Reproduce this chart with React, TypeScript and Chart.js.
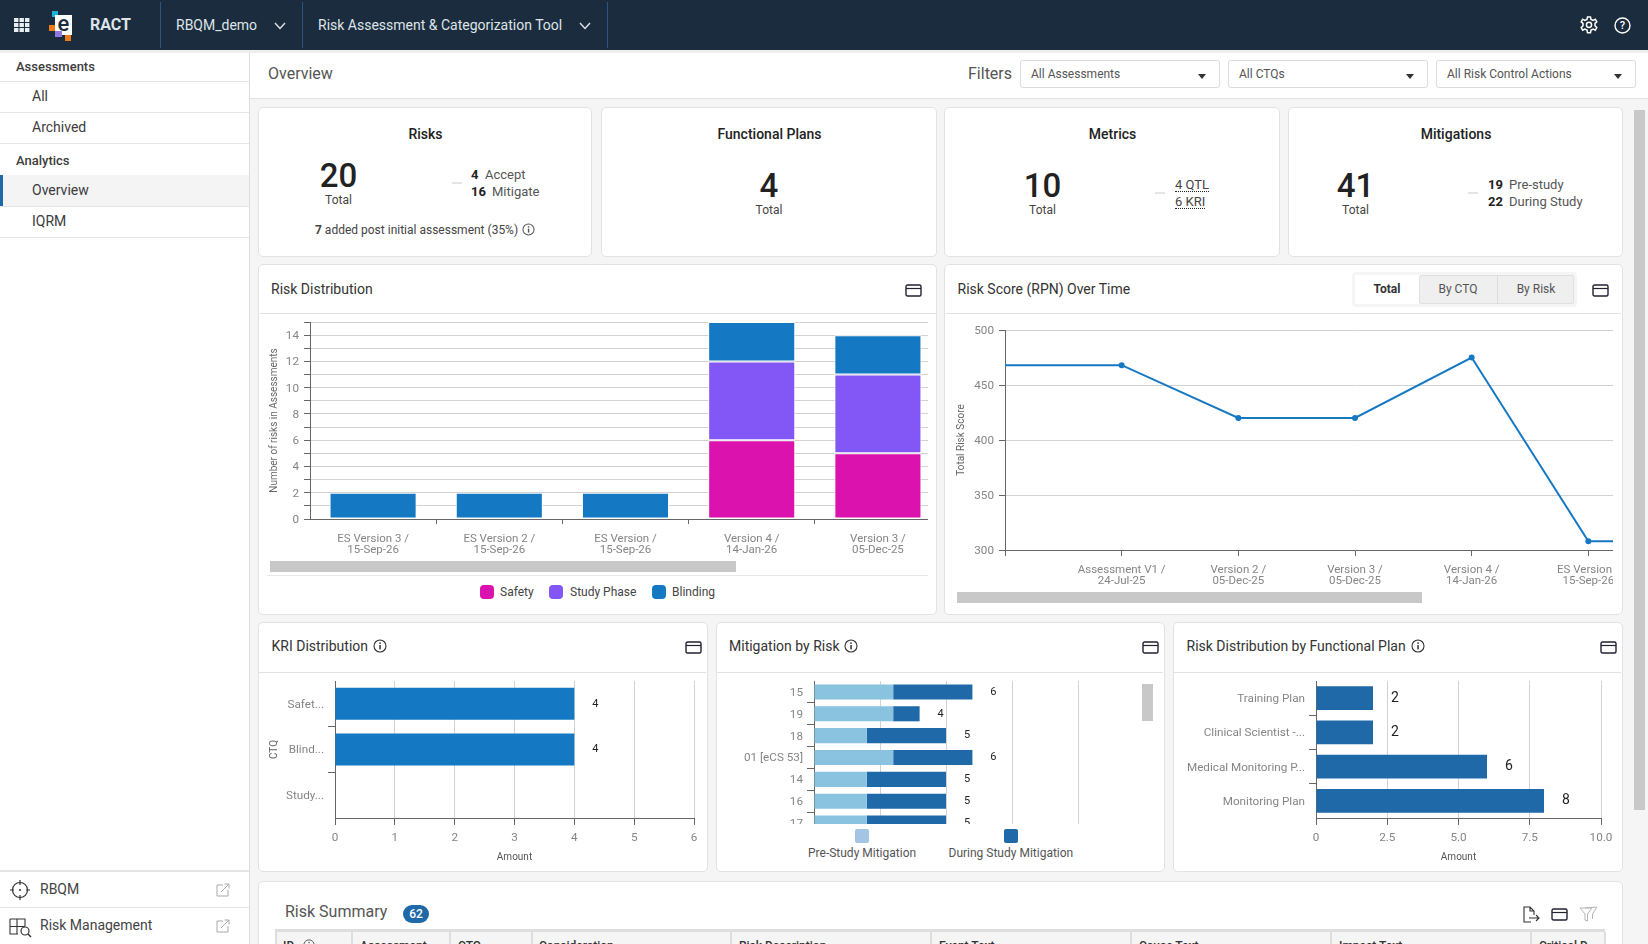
import React, { useEffect, useRef } from "react";
import { Chart, registerables } from "chart.js";

Chart.register(...registerables);
Chart.defaults.font.family = "Roboto";

const distLabels = [["ES Version 3 /", "15-Sep-26"], ["ES Version 2 /", "15-Sep-26"], ["ES Version /", "15-Sep-26"], ["Version 4 /", "14-Jan-26"], ["Version 3 /", "05-Dec-25"]];
const distSafety = [0, 0, 0, 6, 5];
const distStudyPhase = [0, 0, 0, 6, 6];
const distBlinding = [2, 2, 2, 3, 3];

const scoreLabels = ["", ["Assessment V1 /", "24-Jul-25"], ["Version 2 /", "05-Dec-25"], ["Version 3 /", "05-Dec-25"], ["Version 4 /", "14-Jan-26"], ["ES Version /", "15-Sep-26"], ["ES Version 2 /", "15-Sep-26"]];
const scoreValues = [468, 468, 420, 420, 475, 308, 308];

const kriLabels = ["Safet...", "Blind...", "Study..."];
const kriValues = [4, 4, 0];

const mitLabels = ["15", "19", "18", "01 [eCS 53]", "14", "16", "17"];
const mitPre = [3, 3, 2, 3, 2, 2, 2];
const mitDuring = [3, 1, 3, 3, 3, 3, 3];

const planLabels = ["Training Plan", "Clinical Scientist -...", "Medical Monitoring P...", "Monitoring Plan"];
const planValues = [2, 2, 6, 8];

const tableColumns = ["ID", "Assessment", "CTQ", "Consideration", "Risk Description", "Event Text", "Cause Text", "Impact Text", "Critical D..."];

const BLUE = "#1578c2";
const DARK_BLUE = "#1f69a8";
const GRID = "#d2d2d2";
const AXIS = "#666666";
const TICK = "#858585";
const TICK_SIZE = 11.7;

const innerTick = (ctx: any) => (ctx.index === undefined || ctx.index === 0 ? "transparent" : AXIS);

const totalsPlugin = {
  id: "barTotals",
  afterDatasetsDraw(chart: any, _a: any, opts: any) {
    const { ctx, scales } = chart;
    ctx.save();
    ctx.fillStyle = "#222";
    ctx.font = `${opts.size}px Roboto`;
    ctx.textAlign = "center";
    ctx.textBaseline = "middle";
    chart.data.labels.forEach((_: any, i: number) => {
      const total = chart.data.datasets.reduce((s: number, d: any) => s + d.data[i], 0);
      if (!total) return;
      ctx.fillText(String(total), scales.x.getPixelForValue(total) + opts.offset, scales.y.getPixelForValue(i));
    });
    ctx.restore();
  },
};

const fixW = (w: number) => (s: any) => { s.width = w; s.paddingTop = 0; s.paddingBottom = 0; };
const fixH = (h: number) => (s: any) => { s.height = h; s.paddingLeft = 0; s.paddingRight = 0; };
const base = { responsive: false, animation: false as const, maintainAspectRatio: false };
const titleFont = { size: 10, family: "Roboto" };

function distConfig() {
  const ds = (label: string, data: number[], backgroundColor: string) => ({ label, data, backgroundColor, borderColor: "#fff", borderWidth: 1, borderSkipped: false, barPercentage: 0.69, categoryPercentage: 1 });
  return {
    type: "bar",
    data: { labels: distLabels, datasets: [ds("Safety", distSafety, "#db12ae"), ds("Study Phase", distStudyPhase, "#8257f5"), ds("Blinding", distBlinding, BLUE)] },
    options: {
      ...base,
      layout: { padding: { top: 8, right: 18, left: 0, bottom: 0 } },
      plugins: { legend: { display: false }, tooltip: { enabled: false } },
      scales: {
        x: { stacked: true, afterFit: fixH(41), grid: { drawOnChartArea: false, tickLength: 5, tickColor: innerTick }, border: { color: AXIS }, ticks: { padding: 9, color: TICK, maxRotation: 0, autoSkip: false, font: { size: 11.5, lineHeight: 1 } } },
        y: { stacked: true, min: 0, max: 15, afterFit: fixW(51), grid: { color: GRID, tickLength: 6, tickColor: AXIS }, border: { color: AXIS }, title: { display: true, text: "Number of risks in Assessments", color: "#666", font: titleFont, padding: { top: 9, bottom: 0 } }, ticks: { stepSize: 1, padding: 5, labelOffset: 1, color: TICK, autoSkip: false, font: { size: TICK_SIZE }, callback: (v: number) => (v % 2 === 0 ? v : "") } },
      },
    },
  };
}

function scoreConfig() {
  return {
    type: "line",
    data: { labels: scoreLabels, datasets: [{ label: "Total", data: scoreValues, borderColor: BLUE, backgroundColor: BLUE, borderWidth: 2, tension: 0, pointRadius: (c: any) => (c.dataIndex === 0 ? 0 : 2) }] },
    options: {
      ...base,
      layout: { padding: { top: 16, right: 48, left: 0, bottom: 0 } },
      plugins: { legend: { display: false }, tooltip: { enabled: false } },
      scales: {
        x: { afterFit: fixH(42), grid: { drawOnChartArea: false, tickLength: 6, tickColor: AXIS }, border: { color: AXIS }, ticks: { padding: 8, color: TICK, maxRotation: 0, autoSkip: false, font: { size: 11.5, lineHeight: 1 } } },
        y: { min: 300, max: 500, afterFit: fixW(59), grid: { color: GRID, tickLength: 6, tickColor: AXIS }, border: { color: AXIS }, title: { display: true, text: "Total Risk Score", color: "#666", font: titleFont, padding: { top: 9, bottom: 0 } }, ticks: { stepSize: 50, padding: 5, labelOffset: 1, color: TICK, font: { size: TICK_SIZE } } },
      },
    },
  };
}

function hBarConfig(labels: string[], data: number[], color: string, opts: any) {
  return {
    type: "bar",
    plugins: [totalsPlugin],
    data: { labels, datasets: [{ label: "Amount", data, backgroundColor: color, barPercentage: 0.7, categoryPercentage: 1 }] },
    options: {
      ...base,
      indexAxis: "y",
      layout: { padding: { top: 8, right: opts.right, left: 0, bottom: 0 } },
      plugins: { legend: { display: false }, tooltip: { enabled: false }, barTotals: { offset: opts.offset, size: opts.size } },
      scales: {
        x: { min: 0, max: opts.max, afterFit: fixH(54), grid: { color: GRID, tickLength: 7, tickColor: AXIS }, border: { color: AXIS }, title: { display: true, text: "Amount", color: "#555", font: titleFont, padding: { top: 0, bottom: 9 } }, ticks: { stepSize: opts.step, padding: 6, color: TICK, font: { size: TICK_SIZE }, callback: opts.fmt } },
        y: { afterFit: fixW(opts.yWidth), title: opts.yTitle ? { display: true, text: opts.yTitle, color: "#666", font: { size: 10, family: "Roboto" }, padding: { top: 9, bottom: 0 } } : { display: false }, grid: { drawOnChartArea: false, tickLength: 7, tickColor: innerTick }, border: { color: AXIS }, ticks: { padding: 4, labelOffset: 1, color: TICK, autoSkip: false, font: { size: TICK_SIZE } } },
      },
    },
  };
}

function mitConfig() {
  return {
    type: "bar",
    plugins: [totalsPlugin],
    data: {
      labels: mitLabels,
      datasets: [
        { label: "Pre-Study Mitigation", data: mitPre, backgroundColor: "#89c3e0", barPercentage: 0.69, categoryPercentage: 1 },
        { label: "During Study Mitigation", data: mitDuring, backgroundColor: DARK_BLUE, barPercentage: 0.69, categoryPercentage: 1 },
      ],
    },
    options: {
      ...base,
      indexAxis: "y",
      layout: { padding: { top: 8, right: 86, left: 0, bottom: 0 } },
      plugins: { legend: { display: false }, tooltip: { enabled: false }, barTotals: { offset: 21, size: 11 } },
      scales: {
        x: { stacked: true, min: 0, max: 10, afterFit: fixH(9), grid: { color: GRID, tickLength: 0 }, border: { display: false }, ticks: { stepSize: 2.5, display: false } },
        y: { stacked: true, afterFit: fixW(97), grid: { drawOnChartArea: false, tickLength: 7, tickColor: innerTick }, border: { color: AXIS }, ticks: { padding: 4, labelOffset: 1, color: TICK, autoSkip: false, font: { size: TICK_SIZE } } },
      },
    },
  };
}

function ChartBox({ left, top, width, height, clipW, clipH, make }: any) {
  const ref = useRef<HTMLCanvasElement>(null);
  useEffect(() => {
    const chart = new Chart(ref.current as any, make());
    return () => chart.destroy();
  }, []);
  return (
    <div style={{ position: "absolute", left, top, width: clipW ?? width, height: clipH ?? height, overflow: "hidden" }}>
      <canvas ref={ref} width={width} height={height} style={{ display: "block", width, height }} />
    </div>
  );
}

function T({ x, y, children, size = 12, color = "#444", weight = 400, center = false, lh = 20, style = {} }: any) {
  return (
    <div style={{ position: "absolute", left: x, top: y - lh / 2, lineHeight: lh + "px", fontSize: size, color, fontWeight: weight, whiteSpace: "nowrap", transform: center ? "translateX(-50%)" : undefined, ...style }}>
      {children}
    </div>
  );
}

function Box({ x, y, w, h, bg = "#fff", border, radius, style = {} }: any) {
  return <div style={{ position: "absolute", left: x, top: y, width: w, height: h, background: bg, border, borderRadius: radius, boxSizing: "border-box", ...style }} />;
}

function Svg({ x, y, w, h, vb, children }: any) {
  return <svg style={{ position: "absolute", left: x, top: y }} width={w} height={h} viewBox={vb || `0 0 ${w} ${h}`}>{children}</svg>;
}

const CardIcon = ({ x, y, color = "#223" }: any) => (
  <Svg x={x} y={y} w={17} h={13}>
    <rect x="1" y="1" width="15" height="11" rx="1.5" fill="none" stroke={color} strokeWidth="1.4" />
    <line x1="1" y1="4.5" x2="16" y2="4.5" stroke={color} strokeWidth="1.2" />
  </Svg>
);

const Info = ({ x, y, size = 14, color = "#333" }: any) => (
  <Svg x={x} y={y} w={size} h={size} vb="0 0 14 14">
    <circle cx="7" cy="7" r="6" fill="none" stroke={color} strokeWidth="1.1" />
    <rect x="6.3" y="6" width="1.5" height="4.4" fill={color} />
    <rect x="6.3" y="3.4" width="1.5" height="1.5" fill={color} />
  </Svg>
);

const Chevron = ({ x, y }: any) => (
  <Svg x={x} y={y} w={12} h={8}>
    <path d="M1 1 L6 6.5 L11 1" fill="none" stroke="#dfe4ea" strokeWidth="1.4" />
  </Svg>
);

const Caret = ({ x, y }: any) => (
  <Svg x={x} y={y} w={8} h={5}>
    <path d="M0 0 H8 L4 5 Z" fill="#333" />
  </Svg>
);

const Ext = ({ x, y }: any) => (
  <Svg x={x} y={y} w={14} h={14}>
    <path d="M7 2 H1 V13 H12 V7" fill="none" stroke="#aaa" strokeWidth="1" />
    <path d="M5 9 L13 1 M8.5 1 H13 V5.5" fill="none" stroke="#aaa" strokeWidth="1" />
  </Svg>
);

const Panel = ({ x, y, w, h }: any) => <Box x={x - 1} y={y - 1} w={w + 1} h={h + 1} border="1px solid #e2e2e6" radius={5} />;

function KpiCard({ x, w, title }: any) {
  return (
    <>
      <Box x={x - 1} y={107} w={w + 1} h={150} border="1px solid #e2e2e6" radius={5} />
      <T x={x + w / 2} y={134} size={14} weight={500} color="#222" center>{title}</T>
    </>
  );
}

function SideRow({ y, label, line, head, active }: any) {
  return (
    <>
      {active && <Box x={0} y={y - 15} w={249} h={31} bg="#f4f4f4" />}
      {active && <Box x={0} y={y - 15} w={3} h={31} bg={DARK_BLUE} />}
      <T x={head ? 16 : 32} y={y} size={head ? 13 : 14} weight={head ? 500 : 400} color="#3c3c3c">{label}</T>
      <Box x={0} y={line} w={249} h={1} bg="#e4e4e4" />
    </>
  );
}

export default function App() {
  useEffect(() => {
    document.body.style.margin = "0";
    document.body.style.overflow = "hidden";
  }, []);
  const cols = [275, 351, 449, 531, 730, 930, 1130, 1330, 1530];
  const colText = [283, 360, 458, 539, 739, 939, 1139, 1339, 1539];
  return (
    <div style={{ position: "relative", width: 1648, height: 944, overflow: "hidden", background: "#f5f5f5", fontFamily: "Roboto, sans-serif" }}>
      {/* header */}
      <Box x={0} y={0} w={1648} h={50} bg="#1a2c3d" />
      <Box x={0} y={50} w={1648} h={3} bg="#eeeeee" />
      <Svg x={14} y={18} w={16} h={15}>
        {[0, 5.5, 11].map((a) => [0, 5, 10].map((b) => <rect key={a + "-" + b} x={a} y={b} width="4.4" height="4" fill="#e8edf2" />))}
      </Svg>
      <Box x={52} y={11} w={6} h={6} bg="#19b5d6" />
      <Box x={55} y={15} w={17} h={20} bg="#fff" />
      <Box x={49} y={25} w={6} h={6} bg="#f07a1a" />
      <Box x={55} y={31} w={7} h={6} bg="#8d7ae0" />
      <Box x={65} y={35} w={6} h={6} bg="#f07a1a" />
      <T x={63.5} y={24} size={22} weight={500} color="#1a2c3d" center>e</T>
      <T x={90} y={25} size={16} weight={700} color="#dfe4ea">RACT</T>
      <Box x={160} y={2} w={1} h={46} bg="#2b5480" />
      <Box x={302} y={2} w={1} h={46} bg="#2b5480" />
      <Box x={607} y={2} w={1} h={46} bg="#2b5480" />
      <T x={176} y={25} size={14} color="#dfe4ea">RBQM_demo</T>
      <Chevron x={274} y={22} />
      <T x={318} y={25} size={14} color="#dfe4ea">Risk Assessment &amp; Categorization Tool</T>
      <Chevron x={579} y={22} />
      <Svg x={1580} y={16} w={18} h={18} vb="0 0 18 18">
        <path d="M7.5 1 H10.5 L11 3.4 L13.2 4.4 L15.3 3.2 L16.8 5.8 L15 7.4 V9.8 L16.8 11.6 L15.3 14.2 L13.2 13 L11 14 L10.5 16.8 H7.5 L7 14 L4.8 13 L2.7 14.2 L1.2 11.6 L3 9.8 V7.4 L1.2 5.8 L2.7 3.2 L4.8 4.4 L7 3.4 Z" fill="none" stroke="#fff" strokeWidth="1.5" />
        <circle cx="9" cy="8.8" r="2.6" fill="none" stroke="#fff" strokeWidth="1.5" />
      </Svg>
      <Svg x={1614} y={17} w={17} h={17}>
        <circle cx="8.5" cy="8.5" r="7.5" fill="none" stroke="#fff" strokeWidth="1.4" />
      </Svg>
      <T x={1622.5} y={25.5} size={11} weight={500} color="#fff" center>?</T>

      {/* sidebar */}
      <Box x={0} y={53} w={250} h={891} bg="#fff" style={{ borderRight: "1px solid #dcdcdc" }} />
      <SideRow y={67} label="Assessments" line={81} head />
      <SideRow y={96} label="All" line={112} />
      <SideRow y={127} label="Archived" line={143} />
      <SideRow y={161} label="Analytics" line={175} head />
      <SideRow y={190} label="Overview" line={206} active />
      <SideRow y={221} label="IQRM" line={237} />
      <Box x={0} y={870} w={249} h={2} bg="#e4e4e4" />
      <Box x={0} y={907} w={249} h={1} bg="#e4e4e4" />
      <Svg x={10} y={880} w={20} h={20}>
        <circle cx="10" cy="10" r="7.5" fill="none" stroke="#333" strokeWidth="1.2" />
        <path d="M10 0 V5 M10 15 V20 M0 10 H4 M16 10 H20" stroke="#333" strokeWidth="1.2" />
        <circle cx="10" cy="10" r="1" fill="#333" />
      </Svg>
      <T x={40} y={889} size={14} color="#444">RBQM</T>
      <Ext x={216} y={883} />
      <Svg x={9} y={918} w={24} h={20}>
        <path d="M1 1 H16 V8 M1 1 V16 H9 M1 8.5 H16 M8 1 V16" fill="none" stroke="#333" strokeWidth="1.1" />
        <circle cx="16" cy="13" r="4" fill="none" stroke="#333" strokeWidth="1.2" />
        <path d="M19 16 L22 19" stroke="#333" strokeWidth="1.4" />
      </Svg>
      <T x={40} y={925} size={14} color="#444">Risk Management</T>
      <Ext x={216} y={919} />

      {/* overview bar */}
      <Box x={250} y={53} w={1398} h={46} bg="#fff" style={{ borderBottom: "1px solid #e2e2e8" }} />
      <T x={268} y={74} size={16} color="#555">Overview</T>
      <T x={968} y={74} size={16} color="#555">Filters</T>
      {[[1020, "All Assessments"], [1228, "All CTQs"], [1436, "All Risk Control Actions"]].map(([x, s]: any) => (
        <React.Fragment key={s}>
          <Box x={x} y={60} w={200} h={28} border="1px solid #dcdce0" radius={3} />
          <T x={x + 11} y={74} size={12} color="#555">{s}</T>
          <Caret x={x + 178} y={74} />
        </React.Fragment>
      ))}
      <Box x={1634} y={110} w={11} h={700} bg="#c8c8c8" />

      {/* KPI cards */}
      <KpiCard x={259} w={333} title="Risks" />
      <T x={338.5} y={176} size={33} weight={500} color="#222" center lh={36}>20</T>
      <T x={338.5} y={199.5} size={12} color="#444" center>Total</T>
      <Box x={452} y={182} w={10} h={1.5} bg="#e5e5e5" />
      <T x={471} y={175} size={13} weight={700} color="#222">4</T>
      <T x={485} y={175} size={13} color="#555">Accept</T>
      <T x={471} y={192} size={13} weight={700} color="#222">16</T>
      <T x={492} y={192} size={13} color="#555">Mitigate</T>
      <T x={315} y={229.5} size={12} color="#444"><b style={{ fontWeight: 700 }}>7</b> added post initial assessment (35%)</T>
      <Info x={522} y={223} size={13} color="#555" />

      <KpiCard x={602} w={335} title="Functional Plans" />
      <T x={769} y={186} size={33} weight={500} color="#222" center lh={36}>4</T>
      <T x={769} y={209.5} size={12} color="#444" center>Total</T>

      <KpiCard x={945} w={335} title="Metrics" />
      <T x={1042.5} y={186} size={33} weight={500} color="#222" center lh={36}>10</T>
      <T x={1042.5} y={209.5} size={12} color="#444" center>Total</T>
      <Box x={1155} y={192} w={10} h={1.5} bg="#e5e5e5" />
      <T x={1175} y={184.5} size={13} color="#444"><span style={{ borderBottom: "1px dotted #222", lineHeight: "13px", display: "inline-block" }}>4 QTL</span></T>
      <T x={1175} y={201.5} size={13} color="#444"><span style={{ borderBottom: "1px dotted #222", lineHeight: "13px", display: "inline-block" }}>6 KRI</span></T>

      <KpiCard x={1289} w={334} title="Mitigations" />
      <T x={1355.5} y={186} size={33} weight={500} color="#222" center lh={36}>41</T>
      <T x={1355.5} y={209.5} size={12} color="#444" center>Total</T>
      <Box x={1468} y={192} w={10} h={1.5} bg="#e5e5e5" />
      <T x={1488} y={184.5} size={13} weight={700} color="#222">19</T>
      <T x={1509} y={184.5} size={13} color="#555">Pre-study</T>
      <T x={1488} y={201.5} size={13} weight={700} color="#222">22</T>
      <T x={1509} y={201.5} size={13} color="#555">During Study</T>

      {/* Risk Distribution */}
      <Panel x={259} y={265} w={678} h={350} />
      <Box x={260} y={313} w={676} h={1} bg="#e2e2e6" />
      <T x={271} y={289} size={14} color="#333">Risk Distribution</T>
      <CardIcon x={905} y={284} />
      <ChartBox left={259} top={314} width={700} height={246} clipW={669} make={distConfig} />
      <Box x={270} y={561} w={466} h={11} bg="#c8c8c8" />
      <Box x={267} y={575} w={661} h={1} bg="#e8e8e8" />
      {[[480, 500, "#db12ae", "Safety"], [549, 570, "#8257f5", "Study Phase"], [652, 672, BLUE, "Blinding"]].map(([a, b, c, s]: any) => (
        <React.Fragment key={s}>
          <Box x={a} y={585} w={14} h={14} bg={c} radius={4} />
          <T x={b} y={592} size={12} color="#444">{s}</T>
        </React.Fragment>
      ))}

      {/* Risk Score */}
      <Panel x={945} y={265} w={678} h={350} />
      <Box x={946} y={313} w={675} h={1} bg="#e2e2e6" />
      <T x={957.5} y={289} size={14} color="#333">Risk Score (RPN) Over Time</T>
      <Box x={1352} y={272} w={225} h={35} bg="#f5f5f5" radius={4} />
      <Box x={1355} y={275} w={65} h={29} bg="#fff" />
      <Box x={1419} y={275} w={155} h={29} bg="#efefef" border="1px solid #e0e0e0" radius={2} />
      <Box x={1497} y={275} w={1} h={29} bg="#dcdcdc" />
      <T x={1387} y={289} size={12} weight={700} color="#333" center>Total</T>
      <T x={1458} y={289} size={12} color="#555" center>By CTQ</T>
      <T x={1536} y={289} size={12} color="#555" center>By Risk</T>
      <CardIcon x={1592} y={284} />
      <ChartBox left={946} top={314} width={807} height={278} clipW={667} make={scoreConfig} />
      <Box x={957} y={592} w={465} h={11} bg="#c8c8c8" />

      {/* KRI */}
      <Panel x={259} y={623} w={449} h={249} />
      <Box x={259} y={672} w={447} h={1} bg="#e2e2e6" />
      <T x={271.5} y={646} size={14} color="#333">KRI Distribution</T>
      <Info x={373} y={639} />
      <CardIcon x={685} y={641} />
      <ChartBox left={259} top={673} width={448} height={199} make={() => hBarConfig(kriLabels, kriValues, BLUE, { right: 13, offset: 21, size: 11, max: 6, step: 1, yWidth: 76, yTitle: "CTQ" })} />

      {/* Mitigation */}
      <Panel x={717} y={623} w={448} h={249} />
      <Box x={717} y={672} w={446} h={1} bg="#e2e2e6" />
      <T x={729} y={646} size={14} color="#333">Mitigation by Risk</T>
      <Info x={844} y={639} />
      <CardIcon x={1142} y={641} />
      <ChartBox left={717} top={673} width={447} height={170} clipH={151} make={mitConfig} />
      <Box x={1142} y={684} w={11} h={37} bg="#c8c8c8" />
      <Box x={855} y={829} w={14} h={14} bg="#a3c4e2" radius={2} />
      <Box x={1004} y={829} w={14} h={14} bg={DARK_BLUE} radius={2} />
      <T x={808} y={852.5} size={12} color="#555">Pre-Study Mitigation</T>
      <T x={948.5} y={852.5} size={12} color="#555">During Study Mitigation</T>

      {/* Functional plan */}
      <Panel x={1174} y={623} w={449} h={249} />
      <Box x={1174} y={672} w={447} h={1} bg="#e2e2e6" />
      <T x={1186.5} y={646} size={14} color="#333">Risk Distribution by Functional Plan</T>
      <Info x={1411} y={639} />
      <CardIcon x={1600} y={641} />
      <ChartBox left={1175} top={673} width={447} height={199} make={() => hBarConfig(planLabels, planValues, DARK_BLUE, { right: 21, offset: 22, size: 14, max: 10, step: 2.5, yWidth: 141, fmt: (v: number) => (v === 0 ? "0" : v.toFixed(1)) })} />

      {/* Risk summary */}
      <Box x={258} y={881} w={1365} h={80} border="1px solid #e2e2e6" radius={5} />
      <T x={285} y={912} size={16} color="#555">Risk Summary</T>
      <Box x={403} y={905} w={26} h={18} bg={DARK_BLUE} radius={9} />
      <T x={416} y={914} size={12} weight={500} color="#fff" center>62</T>
      <Svg x={1522} y={906} w={19} h={17}>
        <path d="M9 16 H2 V1 H8 L12 5 V9 M8 1 V5 H12 M7 12 H17 M14 9 L17 12 L14 15" fill="none" stroke="#333" strokeWidth="1.1" />
      </Svg>
      <CardIcon x={1551} y={908} />
      <Svg x={1579} y={906} w={19} h={17}>
        <path d="M1 2 H13 L8.5 8 V15 L6 14 V8 Z M6 2 L18 1 L13.5 8 V13" fill="none" stroke="#b5b5b5" strokeWidth="1" />
      </Svg>
      <Box x={275} y={929} w={1330} h={15} bg="#f5f5f5" style={{ borderTop: "3px solid #dedede" }} />
      {cols.map((c) => <Box key={c} x={c} y={932} w={1.5} h={12} bg="#dedede" />)}
      <Box x={1604} y={932} w={1.5} h={12} bg="#dedede" />
      {tableColumns.map((s, i) => <T key={s} x={colText[i]} y={946} size={12} weight={500} color="#333">{s}</T>)}
      <Info x={303} y={939} size={12} color="#555" />
    </div>
  );
}
